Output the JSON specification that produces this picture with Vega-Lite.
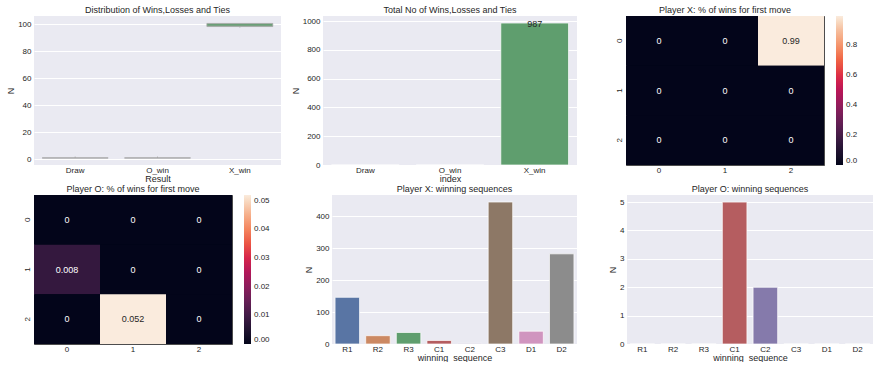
{
  "$schema": "https://vega.github.io/schema/vega-lite/v6.json",
  "background": "white",
  "padding": {"left": 6, "top": 5, "right": 0, "bottom": 0},
  "spacing": 1,
  "vconcat": [
    {
      "bounds": "flush",
      "spacing": 0,
      "hconcat": [
        {
          "title": "Distribution of Wins,Losses and Ties",
          "width": 247, "height": 149,
          "data": {"values": [
            {"Result": "Draw", "lo": 1, "q1": 1, "med": 1, "q3": 1, "hi": 2},
            {"Result": "O_win", "lo": 1, "q1": 1, "med": 1, "q3": 1, "hi": 2},
            {"Result": "X_win", "lo": 97.5, "q1": 98.2, "med": 99.3, "q3": 100.5, "hi": 100.5}
          ]},
          "encoding": {
            "x": {"field": "Result", "type": "nominal", "title": "Result", "scale": {"paddingInner": 0, "paddingOuter": 0}, "axis": {"labelAngle": 0, "grid": false}}
          },
          "layer": [
            {"mark": {"type": "rule", "color": "#a8a8a8"}, "encoding": {"y": {"field": "lo", "type": "quantitative", "title": "N", "scale": {"domain": [-4.2, 106], "nice": false, "zero": false}, "axis": {"values": [0, 20, 40, 60, 80, 100]}}, "y2": {"field": "q1"}}},
            {"mark": {"type": "rule", "color": "#a8a8a8"}, "encoding": {"y": {"field": "q3", "type": "quantitative", "title": "N", "axis": {"values": [0, 20, 40, 60, 80, 100]}}, "y2": {"field": "hi"}}},
            {"mark": {"type": "bar", "width": {"band": 0.8}, "stroke": "#a8a8a8", "strokeWidth": 0.8}, "encoding": {"y": {"field": "q1", "type": "quantitative", "title": "N", "axis": {"values": [0, 20, 40, 60, 80, 100]}}, "y2": {"field": "q3"}, "color": {"field": "Result", "type": "nominal", "scale": {"domain": ["Draw", "O_win", "X_win"], "range": ["#5975a4", "#cc8963", "#5f9e6e"]}, "legend": null}}},
            {"mark": {"type": "tick", "color": "#a8a8a8", "thickness": 0.8, "size": 66}, "encoding": {"y": {"field": "med", "type": "quantitative", "title": "N", "axis": {"values": [0, 20, 40, 60, 80, 100]}}}}
          ]
        },
        {
          "width": 42, "height": 149,
          "view": {"fill": null, "stroke": null},
          "data": {"values": []},
          "mark": {"type": "point", "opacity": 0}
        },
        {
          "title": "Total No of Wins,Losses and Ties",
          "width": 254, "height": 149,
          "data": {"values": [
            {"index": "Draw", "N": 0},
            {"index": "O_win", "N": 0},
            {"index": "X_win", "N": 987}
          ]},
          "encoding": {
            "x": {"field": "index", "type": "nominal", "title": "index", "scale": {"paddingInner": 0.2, "paddingOuter": 0.1}, "axis": {"labelAngle": 0, "grid": false}},
            "y": {"field": "N", "type": "quantitative", "title": "N", "scale": {"domain": [0, 1036], "nice": false}, "axis": {"values": [0, 200, 400, 600, 800, 1000], "format": "d"}}
          },
          "layer": [
            {"mark": {"type": "bar", "stroke": "white", "strokeWidth": 1, "strokeOpacity": 0.7}, "encoding": {"color": {"field": "index", "type": "nominal", "scale": {"domain": ["Draw", "O_win", "X_win"], "range": ["#5975a4", "#cc8963", "#5f9e6e"]}, "legend": null}}},
            {"transform": [{"filter": "datum.N > 0"}], "mark": {"type": "text", "fontSize": 9, "color": "#262626", "baseline": "middle", "dy": 1}, "encoding": {"text": {"field": "N", "type": "quantitative"}}}
          ]
        },
        {
          "width": 49, "height": 149,
          "view": {"fill": null, "stroke": null},
          "data": {"values": []},
          "mark": {"type": "point", "opacity": 0}
        },
        {
          "title": "Player X: % of wins for first move",
          "width": 198, "height": 149,
          "view": {"fill": "#03051A", "stroke": "#4d4d4d"},
          "data": {"values": [
            {"row": 0, "col": 0, "v": 0}, {"row": 0, "col": 1, "v": 0}, {"row": 0, "col": 2, "v": 0.99},
            {"row": 1, "col": 0, "v": 0}, {"row": 1, "col": 1, "v": 0}, {"row": 1, "col": 2, "v": 0},
            {"row": 2, "col": 0, "v": 0}, {"row": 2, "col": 1, "v": 0}, {"row": 2, "col": 2, "v": 0}
          ]},
          "encoding": {
            "x": {"field": "col", "type": "ordinal", "scale": {"paddingInner": 0, "paddingOuter": 0}, "axis": {"title": null, "labelAngle": 0, "grid": false}},
            "y": {"field": "row", "type": "ordinal", "scale": {"paddingInner": 0, "paddingOuter": 0}, "axis": {"title": null, "labelAngle": 270, "grid": false}}
          },
          "layer": [
            {"mark": "rect", "encoding": {"color": {"field": "v", "type": "quantitative",
              "scale": {"domain": [0, 0.099, 0.198, 0.297, 0.396, 0.495, 0.594, 0.693, 0.792, 0.891, 0.99],
                        "range": ["#03051A", "#221331", "#451C47", "#6A1F56", "#921C5B", "#B91657", "#DD2C45", "#F06043", "#F5936A", "#F6BC9B", "#FAEBDD"]},
              "legend": {"title": null, "orient": "right", "offset": 12, "padding": 0, "gradientLength": 149, "gradientThickness": 7, "gradientStrokeWidth": 0, "values": [0, 0.2, 0.4, 0.6, 0.8], "format": ".1f", "labelOffset": 3}}}},
            {"mark": {"type": "text", "fontSize": 9}, "encoding": {"text": {"field": "v", "type": "nominal"}, "color": {"condition": {"test": "datum.v > 0.5", "value": "#262626"}, "value": "#ffffff"}}}
          ]
        }
      ]
    },
    {
      "bounds": "flush",
      "spacing": 0,
      "hconcat": [
        {
          "title": "Player O: % of wins for first move",
          "width": 198, "height": 149,
          "view": {"fill": "#03051A", "stroke": "#4d4d4d"},
          "data": {"values": [
            {"row": 0, "col": 0, "v": 0}, {"row": 0, "col": 1, "v": 0}, {"row": 0, "col": 2, "v": 0},
            {"row": 1, "col": 0, "v": 0.008}, {"row": 1, "col": 1, "v": 0}, {"row": 1, "col": 2, "v": 0},
            {"row": 2, "col": 0, "v": 0}, {"row": 2, "col": 1, "v": 0.052}, {"row": 2, "col": 2, "v": 0}
          ]},
          "encoding": {
            "x": {"field": "col", "type": "ordinal", "scale": {"paddingInner": 0, "paddingOuter": 0}, "axis": {"title": null, "labelAngle": 0, "grid": false}},
            "y": {"field": "row", "type": "ordinal", "scale": {"paddingInner": 0, "paddingOuter": 0}, "axis": {"title": null, "labelAngle": 270, "grid": false}}
          },
          "layer": [
            {"mark": "rect", "encoding": {"color": {"field": "v", "type": "quantitative",
              "scale": {"domain": [0, 0.0052, 0.0104, 0.0156, 0.0208, 0.026, 0.0312, 0.0364, 0.0416, 0.0468, 0.052],
                        "range": ["#03051A", "#221331", "#451C47", "#6A1F56", "#921C5B", "#B91657", "#DD2C45", "#F06043", "#F5936A", "#F6BC9B", "#FAEBDD"]},
              "legend": {"title": null, "orient": "right", "offset": 12, "padding": 0, "gradientLength": 149, "gradientThickness": 7, "gradientStrokeWidth": 0, "values": [0, 0.01, 0.02, 0.03, 0.04, 0.05], "format": ".2f", "labelOffset": 3}}}},
            {"mark": {"type": "text", "fontSize": 9}, "encoding": {"text": {"field": "v", "type": "nominal"}, "color": {"condition": {"test": "datum.v > 0.03", "value": "#262626"}, "value": "#ffffff"}}}
          ]
        },
        {
          "width": 100, "height": 149,
          "view": {"fill": null, "stroke": null},
          "data": {"values": []},
          "mark": {"type": "point", "opacity": 0}
        },
        {
          "title": "Player X: winning sequences",
          "width": 245, "height": 149,
          "data": {"values": [
            {"winning_sequence": "R1", "N": 146}, {"winning_sequence": "R2", "N": 26},
            {"winning_sequence": "R3", "N": 36}, {"winning_sequence": "C1", "N": 11},
            {"winning_sequence": "C2", "N": 2}, {"winning_sequence": "C3", "N": 444},
            {"winning_sequence": "D1", "N": 40}, {"winning_sequence": "D2", "N": 282}
          ]},
          "mark": {"type": "bar", "stroke": "white", "strokeWidth": 1, "strokeOpacity": 0.7},
          "encoding": {
            "x": {"field": "winning_sequence", "type": "nominal", "sort": ["R1", "R2", "R3", "C1", "C2", "C3", "D1", "D2"], "scale": {"paddingInner": 0.2, "paddingOuter": 0.1}, "axis": {"labelAngle": 0, "grid": false}},
            "y": {"field": "N", "type": "quantitative", "scale": {"domain": [0, 466], "nice": false}, "axis": {"values": [0, 100, 200, 300, 400]}},
            "color": {"field": "winning_sequence", "type": "nominal", "scale": {"domain": ["R1", "R2", "R3", "C1", "C2", "C3", "D1", "D2"], "range": ["#5975a4", "#cc8963", "#5f9e6e", "#b55d60", "#857aab", "#8d7866", "#d095bf", "#8c8c8c"]}, "legend": null}
          }
        },
        {
          "width": 50, "height": 149,
          "view": {"fill": null, "stroke": null},
          "data": {"values": []},
          "mark": {"type": "point", "opacity": 0}
        },
        {
          "title": "Player O: winning sequences",
          "width": 246, "height": 149,
          "data": {"values": [
            {"winning_sequence": "R1", "N": 0}, {"winning_sequence": "R2", "N": 0},
            {"winning_sequence": "R3", "N": 0}, {"winning_sequence": "C1", "N": 5},
            {"winning_sequence": "C2", "N": 2}, {"winning_sequence": "C3", "N": 0},
            {"winning_sequence": "D1", "N": 0}, {"winning_sequence": "D2", "N": 0}
          ]},
          "mark": {"type": "bar", "stroke": "white", "strokeWidth": 1, "strokeOpacity": 0.7},
          "encoding": {
            "x": {"field": "winning_sequence", "type": "nominal", "sort": ["R1", "R2", "R3", "C1", "C2", "C3", "D1", "D2"], "scale": {"paddingInner": 0.2, "paddingOuter": 0.1}, "axis": {"labelAngle": 0, "grid": false}},
            "y": {"field": "N", "type": "quantitative", "scale": {"domain": [0, 5.25], "nice": false}, "axis": {"values": [0, 1, 2, 3, 4, 5]}},
            "color": {"field": "winning_sequence", "type": "nominal", "scale": {"domain": ["R1", "R2", "R3", "C1", "C2", "C3", "D1", "D2"], "range": ["#5975a4", "#cc8963", "#5f9e6e", "#b55d60", "#857aab", "#8d7866", "#d095bf", "#8c8c8c"]}, "legend": null}
          }
        }
      ]
    }
  ],
  "config": {
    "font": "Liberation Sans",
    "view": {"fill": "#EAEAF2", "stroke": null},
    "axis": {"labelFontSize": 8, "titleFontSize": 9, "labelColor": "#262626", "titleColor": "#262626", "titleFontWeight": "normal", "domain": false, "ticks": false, "gridColor": "#ffffff", "gridWidth": 1, "labelPadding": 3, "titlePadding": 2, "labelOverlap": false},
    "axisX": {"labelPadding": 1, "titlePadding": 0},
    "title": {"fontSize": 9, "fontWeight": "normal", "color": "#262626", "offset": 1, "baseline": "alphabetic"},
    "legend": {"labelFontSize": 8, "labelColor": "#262626"}
  }
}
